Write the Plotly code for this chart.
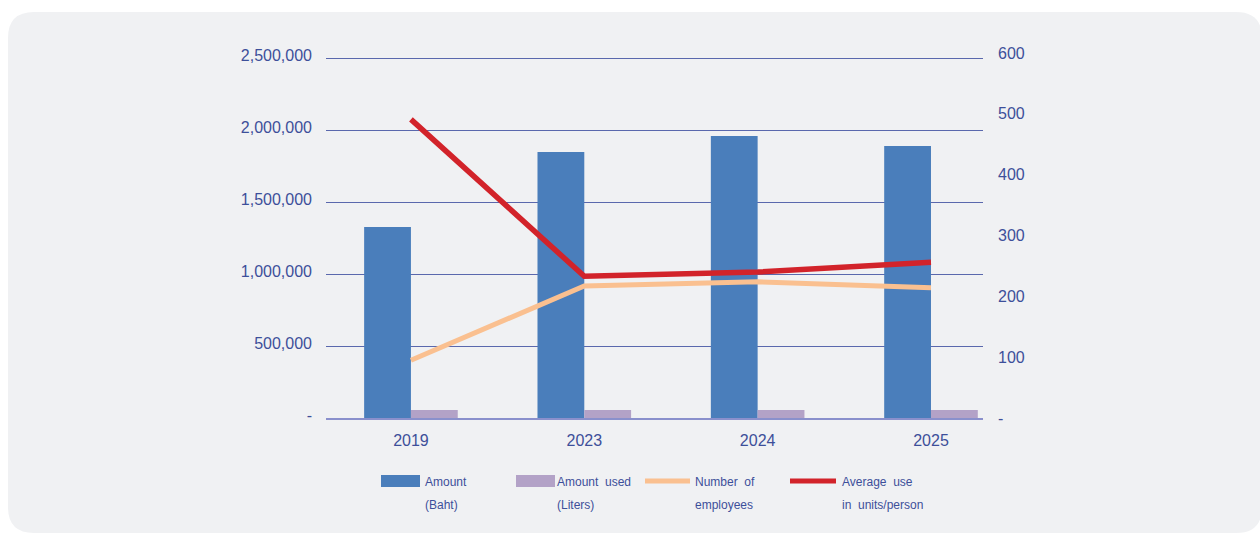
import plotly.graph_objects as go

years = ["2019", "2023", "2024", "2025"]
amount_baht = [1326000, 1847000, 1958000, 1889000]
amount_liters = [55000, 55000, 55000, 55000]
employees = [95, 217, 224, 214]
avg_use = [491, 233, 240, 256]

left_ticks = [0, 500000, 1000000, 1500000, 2000000, 2500000]
left_text = ["-", "500,000", "1,000,000", "1,500,000", "2,000,000", "2,500,000"]
right_ticks = [0, 100, 200, 300, 400, 500, 600]
right_text = ["-", "100", "200", "300", "400", "500", "600"]

W, H = 1260, 533
L, R, T, B = 326, 983, 50, 418
FONT = "Liberation Sans, Arial, sans-serif"
TXT = "#3d4f9a"

def px(x):
    return (x - L) / (R - L)

def py(y):
    return (B - y) / (B - T)

fig = go.Figure()
fig.add_trace(go.Bar(x=years, y=amount_baht, name="Amount (Baht)",
                     marker=dict(color="#4a7ebb", line=dict(width=0)), yaxis="y"))
fig.add_trace(go.Bar(x=years, y=amount_liters, name="Amount used (Liters)",
                     marker=dict(color="#b3a2c7", line=dict(width=0)), yaxis="y"))
fig.add_trace(go.Scatter(x=years, y=employees, name="Number of employees", mode="lines",
                         line=dict(color="#fac090", width=5), yaxis="y2"))
fig.add_trace(go.Scatter(x=years, y=avg_use, name="Average use in units/person", mode="lines",
                         line=dict(color="#d2232a", width=5.5), yaxis="y2"))

shapes = []
# background rounded panel
x0, x1, y0, y1, r = 8, 1262, 12, 533, 26
path = (f"M {px(x0+r)},{py(y0)} L {px(x1-r)},{py(y0)} Q {px(x1)},{py(y0)} {px(x1)},{py(y0+r)} "
        f"L {px(x1)},{py(y1-r)} Q {px(x1)},{py(y1)} {px(x1-r)},{py(y1)} "
        f"L {px(x0+r)},{py(y1)} Q {px(x0)},{py(y1)} {px(x0)},{py(y1-r)} "
        f"L {px(x0)},{py(y0+r)} Q {px(x0)},{py(y0)} {px(x0+r)},{py(y0)} Z")
shapes.append(dict(type="path", path=path, xref="paper", yref="paper",
                   fillcolor="#f0f1f3", line=dict(width=0), layer="below"))

annotations = []
legend_items = [
    ("rect", "#4a7ebb", 381, 420, 423, "Amount", "(Baht)"),
    ("rect", "#b3a2c7", 516, 555, 555, "Amount  used", "(Liters)"),
    ("line", "#fac090", 645, 690, 693, "Number  of", "employees"),
    ("line", "#d2232a", 790, 836, 840, "Average  use", "in  units/person"),
]
for kind, col, sx0, sx1, tx, l1, l2 in legend_items:
    if kind == "rect":
        shapes.append(dict(type="rect", xref="paper", yref="paper",
                           x0=px(sx0), x1=px(sx1), y0=py(487), y1=py(475),
                           fillcolor=col, line=dict(width=0)))
    else:
        shapes.append(dict(type="line", xref="paper", yref="paper",
                           x0=px(sx0), x1=px(sx1), y0=py(481), y1=py(481),
                           line=dict(color=col, width=5)))
    for txt, yy in ((l1, 482), (l2, 505)):
        annotations.append(dict(text=txt, xref="paper", yref="paper", x=px(tx), y=py(yy),
                                xanchor="left", yanchor="middle", showarrow=False,
                                font=dict(family=FONT, size=12, color=TXT)))

fig.update_layout(
    width=W, height=H,
    margin=dict(l=L, r=W - R, t=T, b=H - B, pad=0),
    paper_bgcolor="white", plot_bgcolor="rgba(0,0,0,0)",
    barmode="group", bargap=0.46, bargroupgap=0,
    showlegend=False,
    font=dict(family=FONT, color=TXT),
    xaxis=dict(type="category", range=[-0.49, 3.3], showgrid=False,
               showline=True, linecolor="#8a90cc", linewidth=1.5,
               ticks="", tickfont=dict(size=16, color=TXT), ticklabelstandoff=7),
    yaxis=dict(range=[0, 2556000], tickvals=left_ticks, ticktext=left_text,
               showgrid=True, gridcolor="#5a68ad", gridwidth=1, zeroline=False,
               showline=False, ticks="", tickfont=dict(size=16, color=TXT),
               ticklabelstandoff=13, ticklabelshift=-3),
    yaxis2=dict(range=[0, 605], tickvals=right_ticks, ticktext=right_text,
                overlaying="y", side="right", showgrid=False, zeroline=False,
                showline=False, ticks="", tickfont=dict(size=16, color=TXT),
                ticklabelstandoff=14),
    shapes=shapes, annotations=annotations,
)

fig.write_html("out.html", config={"displayModeBar": False},
               post_script="document.body.style.margin='0';document.body.style.padding='0';")
